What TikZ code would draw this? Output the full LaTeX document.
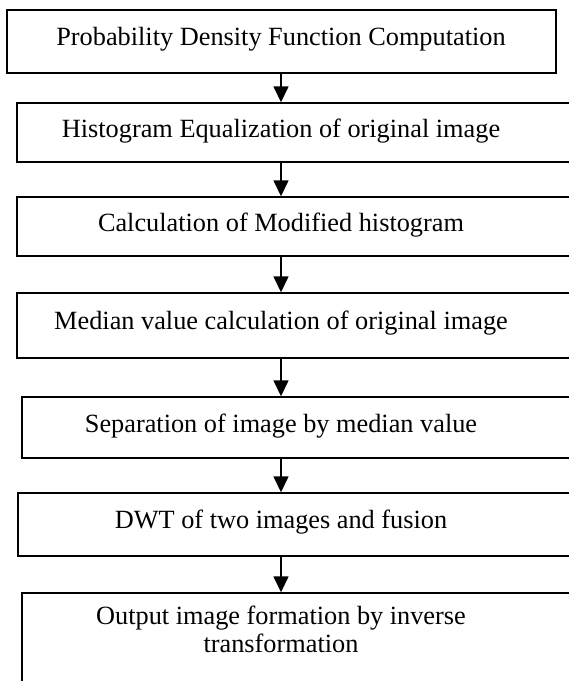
\documentclass[tikz,border=0pt]{standalone}
\usepackage{fontspec}
\setmainfont{Liberation Serif}
\usetikzlibrary{arrows.meta}

\begin{document}
\begin{tikzpicture}[x=1pt,y=-1pt,
    stepbox/.style={draw, line width=1.4pt, inner sep=0pt},
    steptext/.style={font=\fontsize{26.3}{28}\selectfont, align=center, inner sep=0pt},
    flow/.style={line width=1.5pt, -{Triangle[width=15pt,length=16pt]}}]
      \clip (0,0) rectangle (569,681);
      \node[stepbox, minimum width=549pt, minimum height=63pt] (b1) at (281.5,41.5) {};
      \node[stepbox, minimum width=583pt, minimum height=59pt] (b2) at (308.5,132.5) {};
      \node[stepbox, minimum width=583pt, minimum height=59pt] (b3) at (308.5,226.5) {};
      \node[stepbox, minimum width=583pt, minimum height=65pt] (b4) at (308.5,325.5) {};
      \node[stepbox, minimum width=578pt, minimum height=61pt] (b5) at (311,427.5) {};
      \node[stepbox, minimum width=582pt, minimum height=63pt] (b6) at (309,524.5) {};
      \node[stepbox, minimum width=578pt, minimum height=107pt] (b7) at (311,646.5) {};
      \node[steptext] (t1) at (281,39) {Probability Density Function Computation};
      \node[steptext] (t2) at (281,131) {Histogram Equalization of original image};
      \node[steptext] (t3) at (281,225) {Calculation of Modified histogram};
      \node[steptext] (t4) at (281,323) {Median value calculation of original image};
      \node[steptext] (t5) at (281,426) {Separation of image by median value};
      \node[steptext] (t6) at (281,522) {DWT of two images and fusion};
      \node[steptext] (t7) at (281,629) {Output image formation by inverse\\transformation};
      \draw[flow] (t1 |- b1.south) -- (t1 |- b2.north);
      \draw[flow] (t1 |- b2.south) -- (t1 |- b3.north);
      \draw[flow] (t1 |- b3.south) -- (t1 |- b4.north);
      \draw[flow] (t1 |- b4.south) -- (t1 |- b5.north);
      \draw[flow] (t1 |- b5.south) -- (t1 |- b6.north);
      \draw[flow] (t1 |- b6.south) -- (t1 |- b7.north);
    \end{tikzpicture}
\end{document}
